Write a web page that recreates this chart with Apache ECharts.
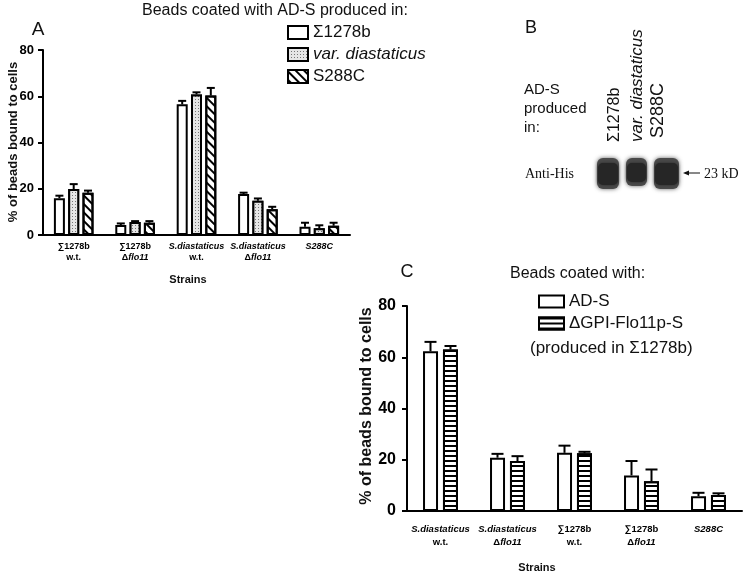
<!DOCTYPE html>
<html><head><meta charset="utf-8">
<script src="https://cdn.jsdelivr.net/npm/echarts@6/dist/echarts.min.js"></script>
<style>html,body{margin:0;padding:0;background:#fff}#c{width:750px;height:573px}</style>
</head><body><div id="c"></div>
<script>
// ---- Panel A data ----
const catsA = ['∑1278b\nw.t.', '∑1278b\nΔflo11', 'S.diastaticus\nw.t.', 'S.diastaticus\nΔflo11', 'S288C'];
const seriesNamesA = ['Σ1278b', 'var. diastaticus', 'S288C'];
const a_1278b = [15.9, 4.3, 56.5, 17.7, 3.6];
const a_1278b_err = [1.1, 0.7, 1.5, 0.6, 1.7];
const a_diast = [19.9, 5.6, 60.8, 14.8, 2.9];
const a_diast_err = [2.1, 0.4, 0.9, 1.0, 1.3];
const a_s288c = [18.3, 5.3, 60.3, 11.1, 4.0];
const a_s288c_err = [0.9, 0.7, 3.3, 1.1, 1.3];
const yTicksA = [0, 20, 40, 60, 80];
// ---- Panel C data ----
const catsC = ['S.diastaticus\nw.t.', 'S.diastaticus\nΔflo11', '∑1278b\nw.t.', '∑1278b\nΔflo11', 'S288C'];
const seriesNamesC = ['AD-S', 'ΔGPI-Flo11p-S'];
const c_ads = [62.3, 20.8, 22.7, 13.9, 5.8];
const c_ads_err = [3.7, 1.5, 2.8, 5.6, 1.3];
const c_gpi = [63.0, 19.5, 22.5, 11.6, 6.2];
const c_gpi_err = [1.4, 1.9, 0.6, 4.6, 0.7];
// ---- Panel B labels ----
const blotLanes = ['Σ1278b', 'var. diastaticus', 'S288C'];

const SANS = 'Liberation Sans, Arial, sans-serif';
const SERIF = 'Liberation Serif, Times New Roman, serif';

function catFmt(v) {
  return v.split('\n').map(function (line) {
    if (line.indexOf('flo11') >= 0) return '{n|Δ}{i|flo11}';
    if (line.indexOf('S.') === 0 || line === 'S288C') return '{i|' + line + '}';
    return '{b|' + line + '}';
  }).join('\n');
}
function catRich(fs, lh) {
  return {
    b: {fontWeight: 'bold', fontSize: fs, fontFamily: SANS, color: '#000', lineHeight: lh},
    n: {fontWeight: 'bold', fontSize: fs, fontFamily: SANS, color: '#000', lineHeight: lh},
    i: {fontWeight: 'bold', fontStyle: 'italic', fontSize: fs, fontFamily: SANS, color: '#000', lineHeight: lh}
  };
}

const dotDecal = {symbol: 'rect', symbolSize: 1, dashArrayX: [1, 2], dashArrayY: [1, 2], color: '#777', backgroundColor: '#e6e6e6'};
const hatchDecal = {symbol: 'rect', symbolSize: 1, dashArrayX: [[1, 0]], dashArrayY: [1.4, 3.6], rotation: Math.PI / 4, color: '#000'};
const stripeDecal = {symbol: 'rect', symbolSize: 1, dashArrayX: [[1, 0]], dashArrayY: [1.3, 3], rotation: 0, color: '#000'};

function barSeries(name, data, xi, bw, gap, decal) {
  const s = {
    name: name, type: 'bar', xAxisIndex: xi, yAxisIndex: xi, data: data,
    barWidth: bw, barGap: gap,
    itemStyle: {color: '#fff', borderColor: '#000', borderWidth: 2},
    emphasis: {disabled: true}, z: 2
  };
  if (decal) s.itemStyle.decal = decal;
  return s;
}
function errSeries(vals, errs, xi, offset, capW) {
  return {
    type: 'custom', xAxisIndex: xi, yAxisIndex: xi, z: 5, silent: true,
    data: vals.map(function (v, i) { return [i, v, errs[i]]; }),
    encode: {x: 0, y: 1},
    renderItem: function (params, api) {
      const i = api.value(0), v = api.value(1), e = api.value(2);
      const p0 = api.coord([i, v]);
      const p1 = api.coord([i, v + e]);
      const cx = p0[0] + offset;
      return {type: 'group', children: [
        {type: 'line', shape: {x1: cx, y1: p0[1], x2: cx, y2: p1[1]}, style: {stroke: '#000', lineWidth: 2}},
        {type: 'line', shape: {x1: cx - capW / 2, y1: p1[1], x2: cx + capW / 2, y2: p1[1]}, style: {stroke: '#000', lineWidth: 2}}
      ]};
    }
  };
}

function xAxisCfg(cats, gi, fs, lh, margin) {
  return {
    type: 'category', gridIndex: gi, data: cats,
    axisLine: {lineStyle: {color: '#000', width: 2}},
    axisTick: {alignWithLabel: true, length: 5, lineStyle: {width: 2, color: '#000'}},
    axisLabel: {formatter: catFmt, rich: catRich(fs, lh), margin: margin, interval: 0}
  };
}
function yAxisCfg(gi, fs, margin) {
  return {
    type: 'value', gridIndex: gi, min: yTicksA[0], max: yTicksA[yTicksA.length - 1], interval: 20,
    axisLine: {show: true, lineStyle: {color: '#000', width: 2}},
    axisTick: {show: true, length: 5, lineStyle: {width: 2, color: '#000'}},
    splitLine: {show: false},
    axisLabel: {fontWeight: 'bold', fontSize: fs, fontFamily: SANS, color: '#000', margin: margin}
  };
}

const chart = echarts.init(document.getElementById('c'), null, {renderer: 'canvas'});

const blot = [];
// blot bands (photo-like decoration, not data)
[[596, 156, 24, 35], [625, 156, 23, 32], [653, 156, 27, 35]].forEach(function (b) {
  blot.push({type: 'rect', shape: {x: b[0] + 1, y: b[1] + 2, width: b[2] - 2, height: b[3] - 4, r: 6},
    style: {fill: '#4a4a4a', shadowBlur: 4, shadowColor: 'rgba(60,60,60,0.8)'}, z: 10});
  blot.push({type: 'rect', shape: {x: b[0] + 2, y: b[1] + 7, width: b[2] - 4, height: b[3] - 13, r: 5},
    style: {fill: '#262626', shadowBlur: 3, shadowColor: 'rgba(30,30,30,0.8)'}, z: 11});
});

const texts = [
  {type: 'text', x: 275, y: 11, style: {text: 'Beads coated with AD-S produced in:', font: '16px ' + SANS, fill: '#111', align: 'center', verticalAlign: 'middle'}},
  {type: 'text', x: 38, y: 30, style: {text: 'A', font: '19px ' + SANS, fill: '#111', align: 'center', verticalAlign: 'middle'}},
  {type: 'text', x: 13, y: 142, rotation: Math.PI / 2, style: {text: '% of beads bound to cells', font: 'bold 13px ' + SANS, fill: '#111', align: 'center', verticalAlign: 'middle'}},
  {type: 'text', x: 188, y: 280, style: {text: 'Strains', font: 'bold 11px ' + SANS, fill: '#111', align: 'center', verticalAlign: 'middle'}},
  // Panel B
  {type: 'text', x: 531, y: 28, style: {text: 'B', font: '18px ' + SANS, fill: '#111', align: 'center', verticalAlign: 'middle'}},
  {type: 'text', x: 524, y: 109, style: {text: 'AD-S\nproduced\nin:', font: '15px ' + SANS, lineHeight: 19, fill: '#111', align: 'left', verticalAlign: 'middle'}},
  {type: 'text', x: 615, y: 142, rotation: Math.PI / 2, style: {text: blotLanes[0], font: '16px ' + SANS, fill: '#111', align: 'left', verticalAlign: 'middle'}},
  {type: 'text', x: 637, y: 142, rotation: Math.PI / 2, style: {text: blotLanes[1], font: 'italic 17px ' + SANS, fill: '#111', align: 'left', verticalAlign: 'middle'}},
  {type: 'text', x: 658, y: 138, rotation: Math.PI / 2, style: {text: blotLanes[2], font: '18px ' + SANS, fill: '#111', align: 'left', verticalAlign: 'middle'}},
  {type: 'text', x: 525, y: 174, style: {text: 'Anti-His', font: '14px ' + SERIF, fill: '#111', align: 'left', verticalAlign: 'middle'}},
  {type: 'line', shape: {x1: 686, y1: 173, x2: 700, y2: 173}, style: {stroke: '#111', lineWidth: 1}},
  {type: 'polygon', shape: {points: [[683, 173], [689, 170.5], [689, 175.5]]}, style: {fill: '#111'}},
  {type: 'text', x: 704, y: 174, style: {text: '23 kD', font: '14px ' + SERIF, fill: '#111', align: 'left', verticalAlign: 'middle'}},
  // Panel C
  {type: 'text', x: 407, y: 272, style: {text: 'C', font: '18px ' + SANS, fill: '#111', align: 'center', verticalAlign: 'middle'}},
  {type: 'text', x: 510, y: 274, style: {text: 'Beads coated with:', font: '16px ' + SANS, fill: '#111', align: 'left', verticalAlign: 'middle'}},
  {type: 'text', x: 530, y: 348, style: {text: '(produced in Σ1278b)', font: '17px ' + SANS, fill: '#111', align: 'left', verticalAlign: 'middle'}},
  {type: 'text', x: 367, y: 406, rotation: Math.PI / 2, style: {text: '% of beads bound to cells', font: 'bold 16px ' + SANS, fill: '#111', align: 'center', verticalAlign: 'middle'}},
  {type: 'text', x: 537, y: 568, style: {text: 'Strains', font: 'bold 11px ' + SANS, fill: '#111', align: 'center', verticalAlign: 'middle'}}
];

const option = {
  animation: false,
  backgroundColor: '#fff',
  grid: [
    {left: 43, top: 50, width: 307, height: 185},
    {left: 407, top: 306, width: 335, height: 205}
  ],
  xAxis: [xAxisCfg(catsA, 0, 9, 11, 6), xAxisCfg(catsC, 1, 9.5, 13, 12)],
  yAxis: [yAxisCfg(0, 13, 9), yAxisCfg(1, 16, 11)],
  legend: [
    {data: seriesNamesA, orient: 'vertical', left: 282, top: 19, itemWidth: 20, itemHeight: 13, itemGap: 5,
      icon: 'rect', selectedMode: false,
      formatter: function (n) { return n.indexOf('var.') === 0 ? '{i|' + n + '}' : n; },
      textStyle: {fontSize: 17, fontFamily: SANS, color: '#111', rich: {i: {fontStyle: 'italic', fontSize: 17, fontFamily: SANS, color: '#111'}}}},
    {data: seriesNamesC, orient: 'vertical', left: 533, top: 288, itemWidth: 25, itemHeight: 12, itemGap: 5,
      icon: 'rect', selectedMode: false,
      textStyle: {fontSize: 17, fontFamily: SANS, color: '#111'}}
  ],
  series: [
    barSeries(seriesNamesA[0], a_1278b, 0, 11, '30%', null),
    barSeries(seriesNamesA[1], a_diast, 0, 11, '30%', dotDecal),
    barSeries(seriesNamesA[2], a_s288c, 0, 11, '30%', hatchDecal),
    errSeries(a_1278b, a_1278b_err, 0, -14.3, 8),
    errSeries(a_diast, a_diast_err, 0, 0, 8),
    errSeries(a_s288c, a_s288c_err, 0, 14.3, 8),
    barSeries(seriesNamesC[0], c_ads, 1, 15, '33%', null),
    barSeries(seriesNamesC[1], c_gpi, 1, 15, '33%', stripeDecal),
    errSeries(c_ads, c_ads_err, 1, -10, 12),
    errSeries(c_gpi, c_gpi_err, 1, 10, 12)
  ],
  graphic: blot.concat(texts)
};
chart.setOption(option);
</script>
</body></html>
